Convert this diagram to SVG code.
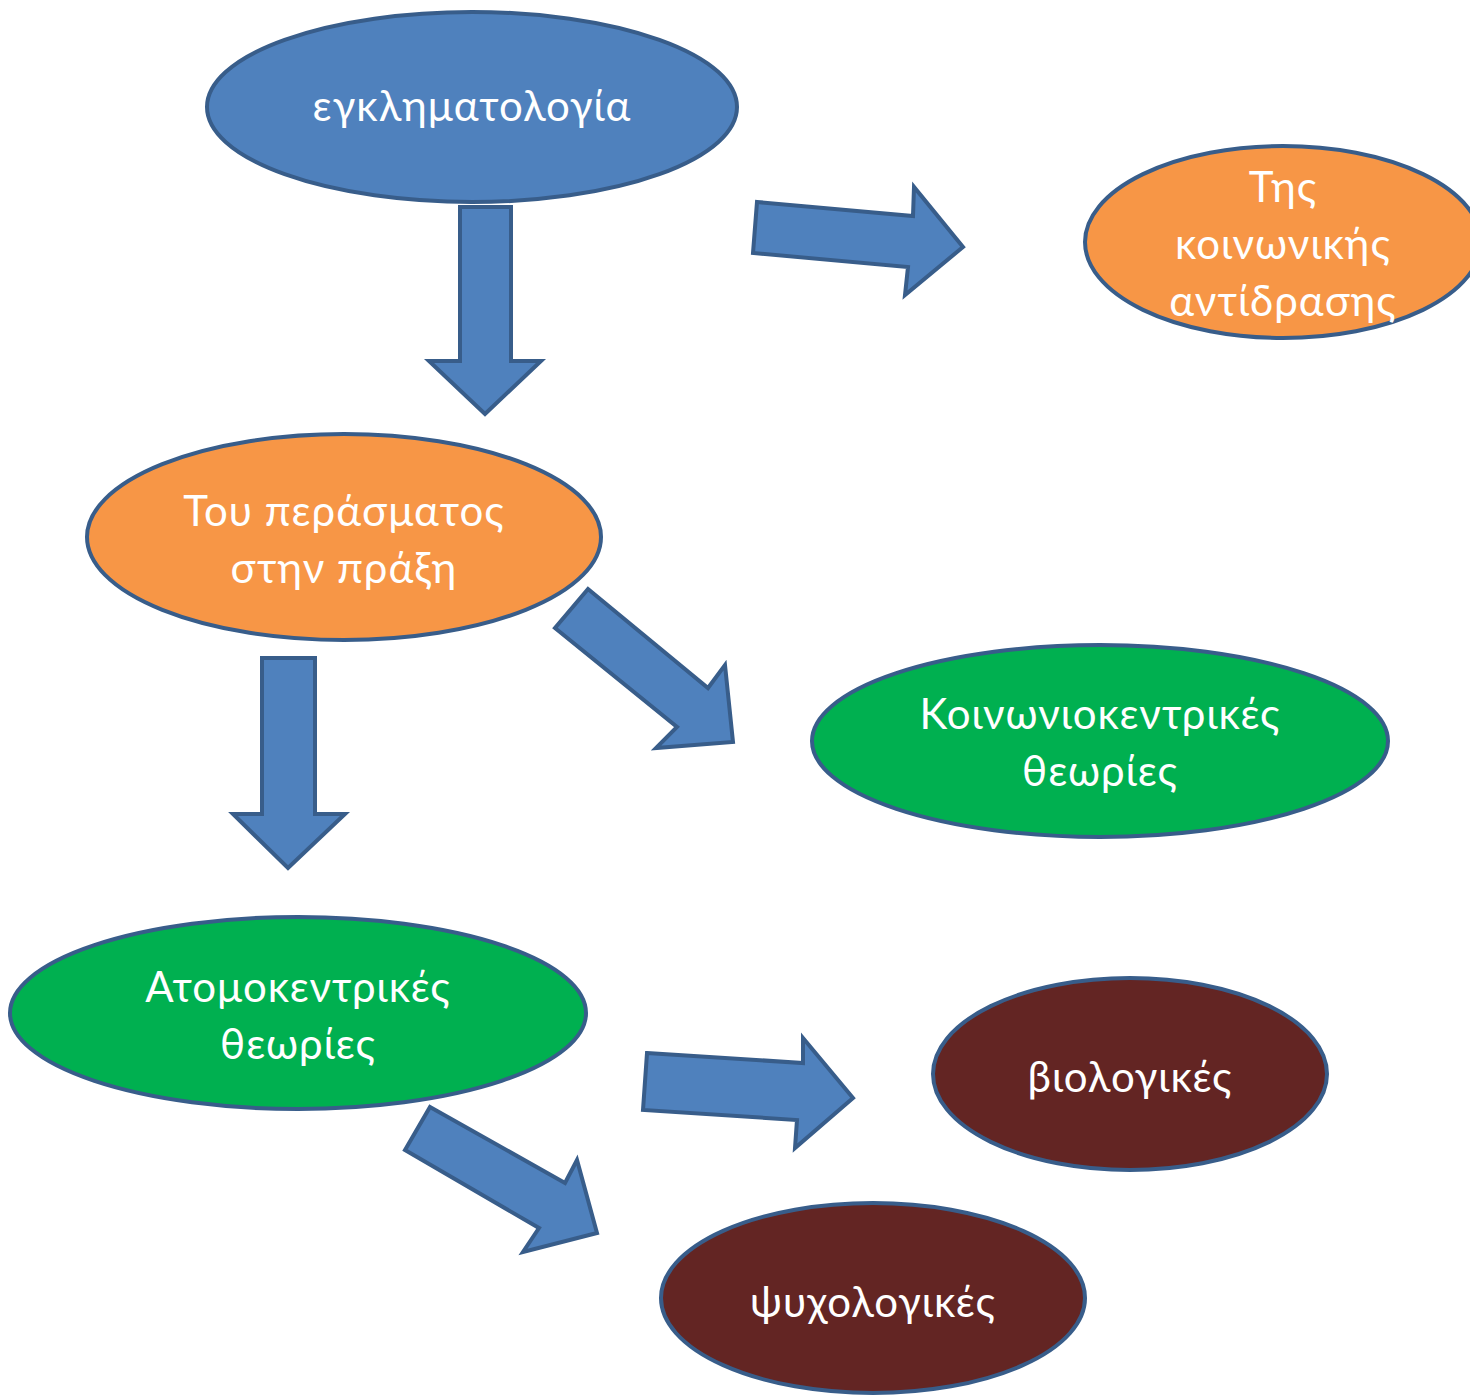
<svg xmlns="http://www.w3.org/2000/svg" width="1470" height="1396" viewBox="0 0 1470 1396">
<style>
  .n ellipse { stroke: #385D8A; stroke-width: 4; }
  .blue { fill: #4F81BD; }
  .orange { fill: #F79646; }
  .green { fill: #00B050; }
  .red { fill: #632523; }
  .n text { font-family: Lato, "Open Sans", "Liberation Sans", sans-serif; font-size: 42px; letter-spacing: 1px; fill: #FFFFFF; text-anchor: middle; }
  .arrow { fill: #4F81BD; stroke: #385D8A; stroke-width: 4; stroke-linejoin: miter; }
</style>
<rect width="1470" height="1396" fill="#FFFFFF"/>
<g id="connectors">
  <polygon class="arrow" points="757,202 913,216 914,187 963,247 905,295 908,267 753,253"/>
  <polygon class="arrow" points="460,207 511,207 511,361 541,361 485,414 429,361 460,361"/>
  <polygon class="arrow" points="588,589 708,688 725,665 733,742 656,748 677,727 555,628"/>
  <polygon class="arrow" points="262,658 315,658 315,814 345,814 288,868 233,814 262,814"/>
  <polygon class="arrow" points="647,1053 803,1063 803,1038 853,1098 795,1148 797,1120 643,1110"/>
  <polygon class="arrow" points="430,1107 565,1183 577,1160 597,1233 523,1252 539,1228 405,1150"/>
</g>
<g id="n1" class="n">
  <ellipse class="blue" cx="472" cy="107" rx="265" ry="95"/>
  <text x="472" y="121">εγκληματολογία</text>
</g>
<g id="n2" class="n">
  <ellipse class="orange" cx="1283" cy="242" rx="198" ry="96"/>
  <text x="1283" y="202">Της</text>
  <text x="1283" y="259">κοινωνικής</text>
  <text x="1283" y="316">αντίδρασης</text>
</g>
<g id="n3" class="n">
  <ellipse class="orange" cx="344" cy="537" rx="257" ry="103"/>
  <text x="344" y="526">Του περάσματος</text>
  <text x="344" y="583">στην πράξη</text>
</g>
<g id="n4" class="n">
  <ellipse class="green" cx="1100" cy="741" rx="288" ry="96"/>
  <text x="1100" y="729">Κοινωνιοκεντρικές</text>
  <text x="1100" y="786">θεωρίες</text>
</g>
<g id="n5" class="n">
  <ellipse class="green" cx="298" cy="1013" rx="288" ry="96"/>
  <text x="298" y="1002">Ατομοκεντρικές</text>
  <text x="298" y="1059">θεωρίες</text>
</g>
<g id="n6" class="n">
  <ellipse class="red" cx="1130" cy="1074" rx="197" ry="96"/>
  <text x="1130" y="1092">βιολογικές</text>
</g>
<g id="n7" class="n">
  <ellipse class="red" cx="873" cy="1298" rx="212" ry="95"/>
  <text x="873" y="1317">ψυχολογικές</text>
</g>
</svg>
